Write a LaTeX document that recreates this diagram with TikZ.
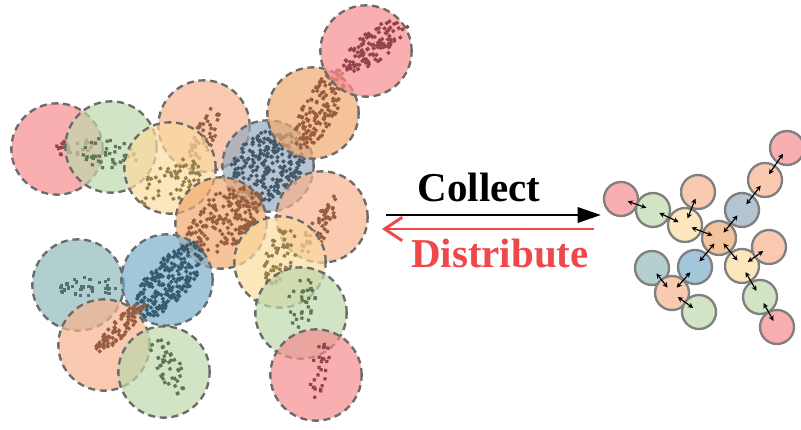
\documentclass[tikz,border=0pt]{standalone}
\usepackage{fontspec}
\setmainfont{Liberation Serif}
\usetikzlibrary{arrows.meta}

\definecolor{cpink}{HTML}{F68B8E}
\definecolor{cgreen}{HTML}{BDD8AB}
\definecolor{cpeach}{HTML}{F6B38E}
\definecolor{cyellow}{HTML}{FBDB9E}
\definecolor{corange}{HTML}{F1A96D}
\definecolor{cslate}{HTML}{95ABC0}
\definecolor{cblue}{HTML}{7CAFCA}
\definecolor{cteal}{HTML}{92BABA}

\definecolor{fpink}{HTML}{F9AEB0}
\definecolor{fgreen}{HTML}{D1E4C4}
\definecolor{fpeach}{HTML}{F9CAB0}
\definecolor{fyellow}{HTML}{FCE6BB}
\definecolor{forange}{HTML}{F5C399}
\definecolor{fslate}{HTML}{B5C4D3}
\definecolor{fblue}{HTML}{A3C7DA}
\definecolor{fteal}{HTML}{B3CFCF}

\definecolor{dpink}{HTML}{94434A}
\definecolor{dgreen}{HTML}{5F7655}
\definecolor{dpeach}{HTML}{985C40}
\definecolor{dyellow}{HTML}{958049}
\definecolor{dslate}{HTML}{44586A}
\definecolor{dblue}{HTML}{385C6E}
\definecolor{dteal}{HTML}{547070}
\definecolor{redline}{HTML}{F0474A}

% x, y, count, long radius, short radius, angle, colour
\newcommand{\cloud}[7]{%
  \begin{scope}[shift={(#1,#2)},rotate=#6]
    \foreach \k in {1,...,#3}{
      \pgfmathsetmacro\rr{sqrt(rnd)}
      \pgfmathsetmacro\aa{360*rnd}
      \fill[#7] ({#4*\rr*cos(\aa)},{#5*\rr*sin(\aa)}) rectangle ++(3.2,3.2);
    }
  \end{scope}}

\begin{document}
\begin{tikzpicture}[x=0.03cm, y=-0.03cm,
  patch/.style={circle, inner sep=0pt, minimum size=2.74cm, fill opacity=0.7,
    draw=black!58, line width=2pt, dash pattern=on 6pt off 4pt},
  blob/.style={circle, inner sep=0pt, minimum size=1.02cm, draw=black!50, line width=2pt},
  link/.style={{Stealth[length=4.5pt,width=4.5pt]}-{Stealth[length=4.5pt,width=4.5pt]},
    line width=1pt, shorten <=6pt, shorten >=6pt},
  label/.style={font=\bfseries\fontsize{35}{40}\selectfont, anchor=base, inner sep=0pt}]
\useasboundingbox (0,0) rectangle (801,430);
\pgfmathsetseed{4217}

\node[patch, fill=cpink] (P1) at (57,149) {};
\cloud{72}{146}{26}{20}{8}{8}{dpink}
\node[patch, fill=cgreen] (P2) at (111,147) {};
\cloud{110}{152}{38}{30}{16}{-5}{dgreen}
\node[patch, fill=cpeach] (P3) at (204,126) {};
\cloud{203}{134}{45}{30}{11}{65}{dpeach}
\node[patch, fill=cyellow] (P4) at (170,168) {};
\cloud{168}{182}{55}{36}{18}{30}{dyellow}
\node[patch, fill=cslate] (P6) at (268,166) {};
\cloud{265}{166}{240}{42}{32}{40}{dslate}
\node[patch, fill=corange] (P7) at (313,113) {};
\cloud{318}{110}{140}{44}{17}{62}{dpeach}
\node[patch, fill=cpink] (P8) at (366,51) {};
\cloud{373}{45}{110}{40}{15}{38}{dpink}
\node[patch, fill=corange] (P5) at (221,223) {};
\cloud{222}{220}{180}{44}{26}{40}{dpeach}
\node[patch, fill=cpeach] (P10) at (322,217) {};
\cloud{318}{226}{55}{34}{10}{60}{dpeach}
\node[patch, fill=cyellow] (P9) at (280,262) {};
\cloud{278}{256}{55}{30}{15}{70}{dyellow}
\node[patch, fill=cgreen] (P11) at (301,313) {};
\cloud{300}{305}{30}{25}{14}{80}{dgreen}
\node[patch, fill=cpink] (P12) at (316,375) {};
\cloud{318}{370}{26}{30}{8}{80}{dpink}
\node[patch, fill=cteal] (P14) at (78,285) {};
\cloud{86}{285}{32}{34}{10}{0}{dteal}
\node[patch, fill=cblue] (P13) at (167,280) {};
\cloud{167}{280}{240}{46}{21}{50}{dblue}
\node[patch, fill=cpeach] (P15) at (104,345) {};
\cloud{118}{327}{85}{34}{9}{45}{dpeach}
\node[patch, fill=cgreen] (P16) at (164,372) {};
\cloud{168}{362}{42}{33}{12}{-65}{dgreen}

\node[label] (collect) at (479,202) {Collect};
\node[label, text=redline] (distribute) at (500,268) {Distribute};
\coordinate (c0) at (386,215);
\coordinate (c1) at (601,215);
\coordinate (d0) at (594,229);
\coordinate (d1) at (382,229);
\draw[line width=2.5pt, -{Triangle[length=20pt,width=13pt]}] (c0) -- (c1);
\draw[line width=2.5pt, redline, -{Straight Barb[length=15pt,width=20pt]}] (d0) -- (d1);

\node[blob, fill=fpink] (Q1) at (621,199) {};
\node[blob, fill=fgreen] (Q2) at (653,210) {};
\node[blob, fill=fpeach] (Q3) at (698,192) {};
\node[blob, fill=fyellow] (Q4) at (685,225) {};
\node[blob, fill=forange] (Q5) at (719,238) {};
\node[blob, fill=fslate] (Q6) at (742,210) {};
\node[blob, fill=fpeach] (Q7) at (765,180) {};
\node[blob, fill=fpink] (Q8) at (787,148) {};
\node[blob, fill=fyellow] (Q9) at (742,266) {};
\node[blob, fill=fpeach] (Q10) at (769,247) {};
\node[blob, fill=fgreen] (Q11) at (760,297) {};
\node[blob, fill=fpink] (Q12) at (777,327) {};
\node[blob, fill=fblue] (Q13) at (695,267) {};
\node[blob, fill=fteal] (Q14) at (652,268) {};
\node[blob, fill=fpeach] (Q15) at (672,293) {};
\node[blob, fill=fgreen] (Q16) at (699,312) {};

\draw[link] (Q1.center) -- (Q2.center);
\draw[link] (Q2.center) -- (Q4.center);
\draw[link] (Q3.center) -- (Q4.center);
\draw[link] (Q4.center) -- (Q5.center);
\draw[link] (Q5.center) -- (Q6.center);
\draw[link] (Q6.center) -- (Q7.center);
\draw[link] (Q7.center) -- (Q8.center);
\draw[link] (Q5.center) -- (Q9.center);
\draw[link] (Q9.center) -- (Q10.center);
\draw[link] (Q9.center) -- (Q11.center);
\draw[link] (Q11.center) -- (Q12.center);
\draw[link] (Q5.center) -- (Q13.center);
\draw[link] (Q13.center) -- (Q15.center);
\draw[link] (Q14.center) -- (Q15.center);
\draw[link] (Q15.center) -- (Q16.center);
\end{tikzpicture}
\end{document}
